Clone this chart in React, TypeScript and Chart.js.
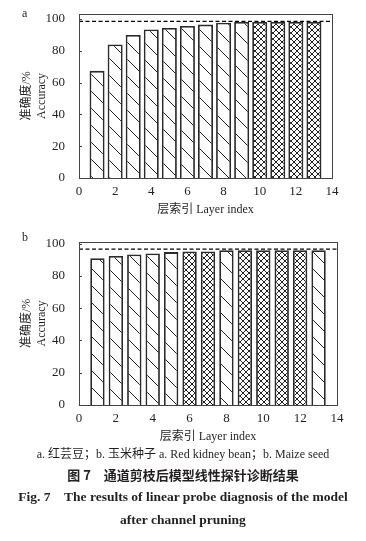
import React, { useEffect, useRef } from "react";
import { Chart, registerables } from "chart.js";

Chart.register(...registerables);

// ---- data ----
const LAYERS = [1, 2, 3, 4, 5, 6, 7, 8, 9, 10, 11, 12, 13];
const ACC_A = [67.4, 84.0, 90.0, 93.5, 94.4, 95.6, 96.5, 97.7, 98.1, 98.1, 98.1, 98.1, 98.1];
const ACC_B = [91.0, 92.4, 93.4, 94.0, 94.8, 95.2, 95.2, 96.0, 96.0, 96.0, 96.0, 96.0, 96.0];
// d = diagonal hatch, x = cross hatch
const HATCH_A = ["d", "d", "d", "d", "d", "d", "d", "d", "d", "x", "x", "x", "x"];
const HATCH_B = ["d", "d", "d", "d", "d", "x", "x", "d", "x", "x", "x", "x", "d"];
const REF_A = 98.5;
const REF_B = 96.6;
const X_TICK_STEP = 2;
const Y_TICK_STEP = 20;
const X_TITLE = "层索引 Layer index";
const Y_TITLE = ["准确度/%", "Accuracy"];

const INK = "#231f20";
const SERIF = "'Liberation Serif', 'Times New Roman', 'Noto Sans CJK SC', serif";

function makePattern(kind: string): CanvasPattern | string {
  const c = document.createElement("canvas");
  const s = kind === "d" ? 17 : 6;
  c.width = s;
  c.height = s;
  const g = c.getContext("2d");
  if (!g) return "#fff";
  g.fillStyle = "#ffffff";
  g.fillRect(0, 0, s, s);
  g.strokeStyle = "#222";
  g.lineWidth = 1;
  g.beginPath();
  for (let k = -1; k <= 1; k++) {
    g.moveTo(k * s, 0);
    g.lineTo(k * s + s, s);
    if (kind === "x") {
      g.moveTo(k * s + s, 0);
      g.lineTo(k * s, s);
    }
  }
  g.stroke();
  const p = g.createPattern(c, "repeat");
  return p || "#fff";
}

type PanelProps = {
  top: number;
  height: number;
  values: number[];
  hatch: string[];
  refValue: number;
  yMax: number;
  padTop: number;
  padRight: number;
  barPct: number;
};

function Panel(props: PanelProps) {
  const ref = useRef<HTMLCanvasElement | null>(null);
  useEffect(() => {
    const canvas = ref.current;
    if (!canvas) return;
    const refValue = props.refValue;
    const framePlugin = {
      id: "frame",
      afterDatasetsDraw(chart: any) {
        const { ctx, chartArea } = chart;
        const ys = chart.scales.y;
        ctx.save();
        // dashed reference line
        const yy = ys.getPixelForValue(refValue);
        ctx.strokeStyle = "#000";
        ctx.lineWidth = 1.3;
        ctx.setLineDash([4, 2.5]);
        ctx.beginPath();
        ctx.moveTo(chartArea.left, yy);
        ctx.lineTo(chartArea.right, yy);
        ctx.stroke();
        ctx.setLineDash([]);
        // frame
        ctx.strokeStyle = "#444";
        ctx.lineWidth = 1;
        ctx.strokeRect(
          Math.round(chartArea.left) + 0.5,
          Math.round(chartArea.top) + 0.5,
          Math.round(chartArea.right - chartArea.left),
          Math.round(chartArea.bottom - chartArea.top)
        );
        // inward y ticks
        ctx.beginPath();
        ys.ticks.forEach((t: any) => {
          const p = Math.round(ys.getPixelForValue(t.value)) + 0.5;
          ctx.moveTo(chartArea.left, p);
          ctx.lineTo(chartArea.left + 3, p);
        });
        ctx.stroke();
        ctx.restore();
      },
    };
    const tickFont = { family: SERIF, size: 13 };
    const titleFont = { family: SERIF, size: 12 };
    const chart = new Chart(canvas, {
      type: "bar",
      data: {
        datasets: [
          {
            data: LAYERS.map((x, i) => ({ x, y: props.values[i] })),
            backgroundColor: props.hatch.map(makePattern) as any,
            borderColor: "#2a2a2a",
            borderWidth: 1.8,
            barPercentage: props.barPct,
            categoryPercentage: 1,
          } as any,
        ],
      },
      options: {
        animation: false,
        responsive: false,
        devicePixelRatio: 1,
        layout: { padding: { top: props.padTop, right: props.padRight, left: 0, bottom: 0 } },
        plugins: { legend: { display: false }, tooltip: { enabled: false } },
        scales: {
          x: {
            type: "linear",
            min: 0,
            max: 14,
            offset: false,
            grid: { display: false, offset: false },
            border: { display: false },
            ticks: {
              stepSize: X_TICK_STEP,
              includeBounds: false,
              padding: -2,
              font: tickFont,
              color: INK,
              maxRotation: 0,
              autoSkip: false,
            },
            title: {
              display: true,
              text: X_TITLE,
              font: titleFont,
              color: INK,
              padding: { top: 0, bottom: 11 },
            },
            afterFit: (s: any) => {
              s.height = 50;
            },
          },
          y: {
            type: "linear",
            min: 0,
            max: props.yMax,
            grid: { display: false },
            border: { display: false },
            ticks: {
              stepSize: Y_TICK_STEP,
              includeBounds: false,
              padding: 6,
              font: tickFont,
              color: INK,
            },
            title: {
              display: true,
              text: Y_TITLE,
              font: titleFont,
              color: INK,
              padding: { top: 20, bottom: 0 },
            },
            afterFit: (s: any) => {
              s.width = 79;
            },
          },
        } as any,
      },
      plugins: [framePlugin],
    });
    return () => chart.destroy();
  }, []);
  return (
    <canvas
      ref={ref}
      width={366}
      height={props.height}
      style={{ position: "absolute", left: 0, top: props.top, width: 366, height: props.height }}
    />
  );
}

const textBase: React.CSSProperties = {
  position: "absolute",
  left: 0,
  width: 366,
  textAlign: "center",
  color: INK,
  whiteSpace: "nowrap",
  lineHeight: "1",
};

export default function App() {
  return (
    <div style={{ position: "absolute", left: 0, top: 0, width: 366, height: 541, background: "#fff", overflow: "hidden" }}>
      <Panel top={0} height={228} values={ACC_A} hatch={HATCH_A} refValue={REF_A} yMax={103.3} padTop={13} padRight={34} barPct={0.83} />
      <Panel top={228} height={227} values={ACC_B} hatch={HATCH_B} refValue={REF_B} yMax={101.2} padTop={10} padRight={29} barPct={0.78} />
      <div style={{ position: "absolute", left: 22, top: 7, fontFamily: SERIF, fontSize: 12, color: INK, lineHeight: "1" }}>a</div>
      <div style={{ position: "absolute", left: 22, top: 231, fontFamily: SERIF, fontSize: 12, color: INK, lineHeight: "1" }}>b</div>
      <div style={{ ...textBase, top: 448, fontFamily: SERIF, fontSize: 12 }}>
        a. 红芸豆；b. 玉米种子 a. Red kidney bean；b. Maize seed
      </div>
      <div style={{ ...textBase, top: 468, fontFamily: "'Noto Sans CJK SC', sans-serif", fontSize: 13, fontWeight: 700 }}>
        图 7　通道剪枝后模型线性探针诊断结果
      </div>
      <div style={{ ...textBase, top: 490, fontFamily: SERIF, fontSize: 13.5, fontWeight: 700 }}>
        Fig. 7　The results of linear probe diagnosis of the model
      </div>
      <div style={{ ...textBase, top: 513, fontFamily: SERIF, fontSize: 13.5, fontWeight: 700 }}>
        after channel pruning
      </div>
    </div>
  );
}
